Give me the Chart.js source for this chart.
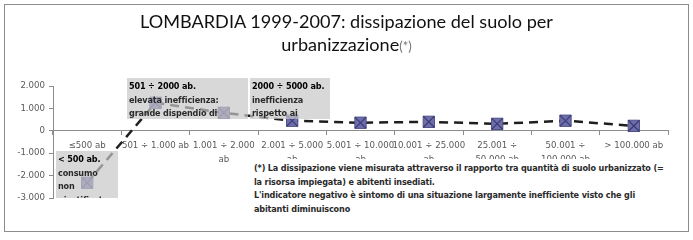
<!DOCTYPE html>
<html>
<head>
<meta charset="utf-8">
<script src="https://cdn.jsdelivr.net/npm/chart.js@4/dist/chart.umd.min.js"></script>
<style>
  body { margin: 0; background: #fff; }
  #wrap { position: relative; width: 693px; height: 240px; }
  #frame { position: absolute; left: 4px; top: 4px; width: 683px; height: 226px; border: 1px solid #8c8c8c; }
  canvas { position: absolute; left: 0; top: 0; }
  #title {
    position: absolute; left: 0; width: 693px; top: 10px; text-align: center;
    font-family: Lato, "Open Sans", sans-serif; font-size: 18.1px; line-height: 23px; color: #111;
  }
  #title span { color: #777; font-size: 13px; }
  .note {
    position: absolute; z-index: 2; overflow: hidden; white-space: nowrap;
    font-family: "DejaVu Sans Condensed", "DejaVu Sans", sans-serif; font-weight: bold;
    font-size: 9px; letter-spacing: -0.15px; line-height: 13.5px; color: #2a2a2a;
  }
  .box { background: rgba(200, 200, 200, 0.7); padding: 2px 0 0 2px; box-sizing: border-box; }
  .box b { color: #000; }
  #foot { background: #fff; padding-top: 3px; box-sizing: border-box; }
</style>
</head>
<body>
<div id="wrap">
  <div id="frame"></div>
  <canvas id="chart" width="693" height="240"></canvas>
  <div id="title">LOMBARDIA 1999-2007: dissipazione del suolo per<br>urbanizzazione<span>(*)</span></div>
  <div class="note box" style="left:56px;top:151px;width:62px;height:47px;"><b>&lt; 500 ab.</b><br>consumo<br>non<br>giustificato</div>
  <div class="note box" style="left:127px;top:78px;width:121px;height:41px;"><b>501 ÷ 2000 ab.</b><br>elevata inefficienza:<br>grande dispendio di</div>
  <div class="note box" style="left:250px;top:78px;width:80px;height:41px;"><b>2000 ÷ 5000 ab.</b><br>inefficienza<br>rispetto ai</div>
  <div class="note" id="foot" style="left:254px;top:159px;width:430px;height:64px;">(*) La dissipazione viene misurata attraverso il rapporto tra quantità di suolo urbanizzato (=<br>la risorsa impiegata) e abitenti insediati.<br>L'indicatore negativo è sintomo di una situazione largamente inefficiente visto che gli<br>abitanti diminuiscono</div>
</div>
<script>
// classi di ampiezza demografica dei comuni
const classi = [
  '≤500 ab',
  '501 ÷ 1.000 ab',
  ['1.001 ÷ 2.000', 'ab'],
  ['2.001 ÷ 5.000', 'ab'],
  ['5.001 ÷ 10.000', 'ab'],
  ['10.001 ÷ 25.000', 'ab'],
  ['25.001 ÷', '50.000 ab'],
  ['50.001 ÷', '100.000 ab'],
  '> 100.000 ab'
];
// indicatore di dissipazione 1999-2007
const dissipazione = [-2320, 1250, 800, 450, 360, 400, 310, 450, 220];

const asseMin = -3000;
const asseMax = 2000;
const passo = 1000;

function formatta(v) {
  const s = Math.abs(v).toString().replace(/\B(?=(\d{3})+(?!\d))/g, '.');
  return (v < 0 ? '-' : '') + s;
}

const tickFont = { family: '"DejaVu Sans", Verdana, sans-serif', size: 8.6, lineHeight: 1.6 };

new Chart(document.getElementById('chart'), {
  type: 'line',
  data: {
    labels: classi,
    datasets: [
      {
        data: dissipazione,
        order: 1,
        borderColor: '#1e1e1e',
        borderWidth: 2.5,
        borderDash: [9, 6],
        tension: 0,
        pointStyle: 'rect',
        pointRadius: 8,
        pointBackgroundColor: '#6e6eaa',
        pointBorderColor: '#50508a',
        pointBorderWidth: 1
      },
      {
        data: dissipazione,
        order: 0,
        showLine: false,
        pointStyle: 'crossRot',
        pointRadius: 8,
        pointBorderColor: '#3a3a74',
        pointBorderWidth: 1.2
      }
    ]
  },
  options: {
    responsive: false,
    animation: false,
    layout: { padding: { left: 0, right: 25, top: 86, bottom: 42 } },
    plugins: { legend: { display: false }, tooltip: { enabled: false } },
    scales: {
      x: {
        position: { y: 0 },
        offset: true,
        grid: { display: true, drawOnChartArea: false, offset: true, tickLength: 4, color: '#8c8c8c' },
        border: { color: '#8c8c8c' },
        ticks: { autoSkip: false, maxRotation: 0, color: '#595959', font: tickFont, padding: 4 }
      },
      y: {
        min: asseMin,
        max: asseMax,
        grid: { drawOnChartArea: false, tickLength: 4, color: '#8c8c8c' },
        border: { color: '#8c8c8c' },
        ticks: { stepSize: passo, color: '#595959', font: { family: tickFont.family, size: 8.6 }, padding: 4, callback: v => formatta(v) },
        afterFit: s => { s.width = 53; }
      }
    }
  }
});
</script>
</body>
</html>
